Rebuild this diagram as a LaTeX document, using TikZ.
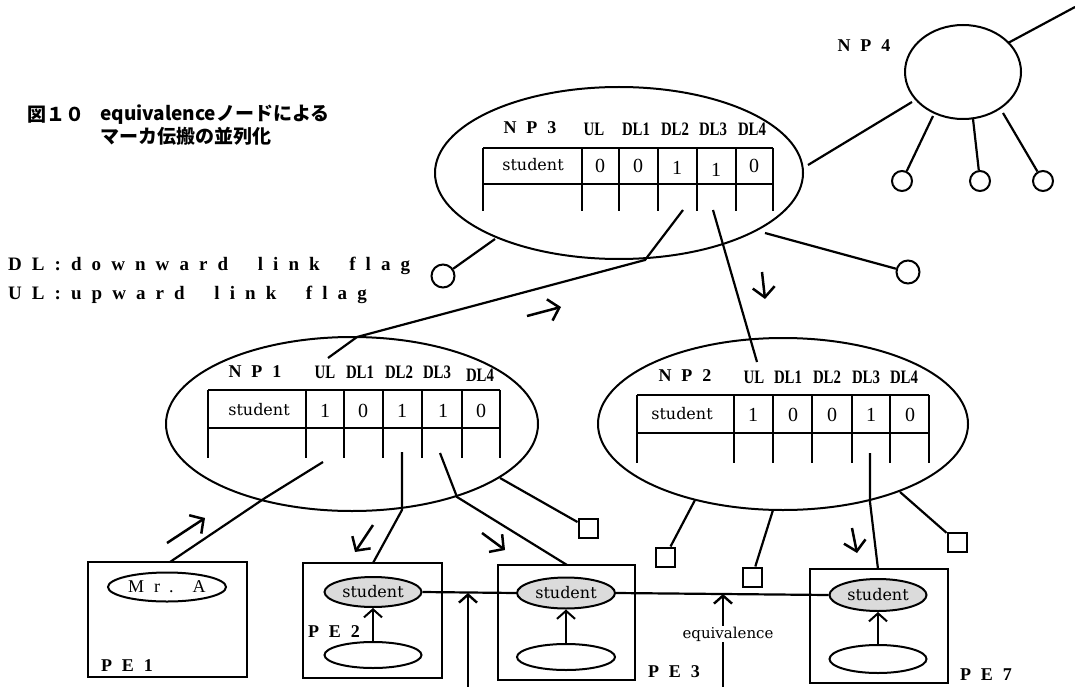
\documentclass[tikz,border=0pt]{standalone}
\usepackage{fontspec}
\setmainfont{Liberation Serif}
\newfontfamily\cjk{Noto Sans CJK JP}
\newfontfamily\spc[LetterSpace=55]{Liberation Serif}
\newfontfamily\lsp[LetterSpace=53]{Liberation Serif}
\newfontfamily\cond[FakeStretch=0.78]{Liberation Serif}
\newfontfamily\dvs{DejaVu Serif}
\usetikzlibrary{shapes.geometric,arrows.meta}
\begin{document}
\begin{tikzpicture}[x=1pt,y=-1pt,
  ln/.style={line width=2.2pt},
  tbl/.style={line width=2.3pt},
  el/.style={ellipse,draw,line width=2pt,inner sep=0pt},
  sel/.style={el,fill=gray!28,font=\dvs\fontsize{16pt}{18pt}\selectfont},
  sq/.style={rectangle,draw,line width=2pt,minimum size=19pt,inner sep=0pt},
  cir/.style={circle,draw,line width=2pt,inner sep=0pt},
  mk/.style={line width=2.5pt,-{Straight Barb[length=10pt,width=22pt]}},
  upa/.style={line width=2pt,-{Straight Barb[length=8pt,width=18pt]}},
  pebox/.style={rectangle,draw,line width=2pt,inner sep=0pt},
  npl/.style={inner sep=0pt,font=\spc\bfseries\fontsize{18pt}{20pt}\selectfont},
  hdr/.style={inner sep=0pt,font=\cond\bfseries\fontsize{19pt}{21pt}\selectfont},
  val/.style={inner sep=0pt,font=\fontsize{20pt}{22pt}\selectfont},
  stu/.style={inner sep=0pt,font=\dvs\fontsize{16pt}{18pt}\selectfont},
  lgd/.style={anchor=west,inner sep=0pt,font=\lsp\bfseries\fontsize{19pt}{21pt}\selectfont},
  ttl/.style={anchor=west,inner sep=0pt,font=\cjk\bfseries\fontsize{19pt}{21pt}\selectfont}]
\fill[white] (0,0) rectangle (1075,687);
\useasboundingbox (0,0) rectangle (1075,687);

% title and legend
\node[ttl] (t1) at (27,115) {図１０};
\node[ttl] (t2) at (100,115) {equivalenceノードによる};
\node[ttl] (t3) at (100,136) {マーカ伝搬の並列化};
\node[lgd] (lg1) at (8,266) {DL:downward \ link \ flag};
\node[lgd] (lg2) at (8,295) {UL:upward \ link \ flag};

% ellipses of NP nodes
\node[el,minimum width=368pt,minimum height=172pt] (np3) at (619,173) {};
\node[el,minimum width=372pt,minimum height=174pt] (np1) at (352,424) {};
\node[el,minimum width=370pt,minimum height=172pt] (np2) at (783,424) {};
\node[el,minimum width=116pt,minimum height=94pt] (np4) at (963,72) {};
\node[npl] (np4l) at (864,46) {NP4};

% NP3 table
\foreach \x in {483,582,619,658,697,736,773} \draw[tbl] (\x,148) -- (\x,211);
\draw[tbl] (483,148) -- (773,148) (483,184) -- (773,184);
\node[npl] (np3l) at (530,128) {NP3};
\foreach \x/\t/\n in {594/UL/a,636/DL1/b,675/DL2/c,713/DL3/d,752/DL4/e}
  \node[hdr] (np3h\n) at (\x,129) {\t};
\node[stu] (np3s) at (533,165) {student};
\foreach \x/\y/\t/\n in {600/166/0/a,638/166/0/b,677/168/1/c,716/170/1/d,754/166/0/e}
  \node[val] (np3v\n) at (\x,\y) {\t};

% NP1 table
\foreach \x in {208,306,344,383,422,462,500} \draw[tbl] (\x,390) -- (\x,458);
\draw[tbl] (208,390) -- (500,390) (208,428) -- (500,428);
\node[npl] (np1l) at (255,372) {NP1};
\foreach \x/\y/\t/\n in {325/372/UL/a,360/372/DL1/b,399/372/DL2/c,437/372/DL3/d,480/375/DL4/e}
  \node[hdr] (np1h\n) at (\x,\y) {\t};
\node[stu] (np1s) at (259,410) {student};
\foreach \x/\t/\n in {325/1/a,363/0/b,402/1/c,443/1/d,481/0/e}
  \node[val] (np1v\n) at (\x,411) {\t};

% NP2 table
\foreach \x in {637,734,773,812,852,890,929} \draw[tbl] (\x,395) -- (\x,463);
\draw[tbl] (637,395) -- (929,395) (637,433) -- (929,433);
\node[npl] (np2l) at (685,376) {NP2};
\foreach \x/\t/\n in {754/UL/a,788/DL1/b,827/DL2/c,866/DL3/d,904/DL4/e}
  \node[hdr] (np2h\n) at (\x,377) {\t};
\node[stu] (np2s) at (682,414) {student};
\foreach \x/\t/\n in {753/1/a,793/0/b,832/0/c,871/1/d,910/0/e}
  \node[val] (np2v\n) at (\x,415) {\t};

% small circles and squares
\node[cir,minimum size=23pt] (c1) at (443,276) {};
\node[cir,minimum size=23pt] (c2) at (908,272) {};
\node[cir,minimum size=20pt] (c3) at (902,181) {};
\node[cir,minimum size=20pt] (c4) at (980,181) {};
\node[cir,minimum size=20pt] (c5) at (1043,181) {};
\node[sq] (s1) at (588,528) {};
\node[sq] (s2) at (665,557) {};
\node[sq] (s3) at (752,577) {};
\node[sq] (s4) at (957,542) {};

% links of NP3 and NP4
\coordinate (p31) at (683,210); \coordinate (p32) at (645,260);
\coordinate (p33) at (357,337); \coordinate (p34) at (328,358);
\draw[ln] (p31) -- (p32) -- (p33) -- (p34);
\coordinate (q1) at (713,210); \coordinate (q2) at (757,362);
\draw[ln] (q1) -- (q2);
\coordinate (r1) at (495,239); \draw[ln] (r1) -- (c1);
\coordinate (r2) at (765,233); \draw[ln] (r2) -- (c2);
\coordinate (r3) at (808,165); \coordinate (r4) at (912,102); \draw[ln] (r3) -- (r4);
\coordinate (r5) at (1008,43); \coordinate (r6) at (1075,7); \draw[ln] (r5) -- (r6);
\coordinate (r7) at (933,116); \draw[ln] (r7) -- (c3);
\coordinate (r8) at (973,119); \draw[ln] (r8) -- (c4);
\coordinate (r9) at (1003,113); \draw[ln] (r9) -- (c5);

% PE boxes
\node[pebox,minimum width=159pt,minimum height=115pt] (pe1) at (167.5,619.5) {};
\node[pebox,minimum width=139pt,minimum height=115pt] (pe2) at (372.5,620.5) {};
\node[pebox,minimum width=137pt,minimum height=115pt] (pe3) at (566.5,622.5) {};
\node[pebox,minimum width=138pt,minimum height=114pt] (pe7) at (879,626) {};
\node[npl] (pe1l) at (127,666) {PE1};
\node[npl] (pe2l) at (334,632) {PE2};
\node[npl] (pe3l) at (674,672) {PE3};
\node[npl] (pe7l) at (986,675) {PE7};

% links of NP1
\coordinate (u1) at (323,462); \coordinate (u2) at (265,498); \coordinate (u3) at (170,562);
\draw[ln] (u1) -- (u2) -- (u3);
\coordinate (d21) at (402,452); \coordinate (d22) at (402,510); \coordinate (d23) at (373,563);
\draw[ln] (d21) -- (d22) -- (d23);
\coordinate (d31) at (440,453); \coordinate (d32) at (457,497); \coordinate (d33) at (567,565);
\draw[ln] (d31) -- (d32) -- (d33);
\coordinate (w1) at (500,478); \draw[ln] (w1) -- (s1);

% links of NP2
\coordinate (e1) at (870,453); \coordinate (e2) at (870,502); \coordinate (e3) at (878,569);
\draw[ln] (e1) -- (e2) -- (e3);
\coordinate (f1) at (695,500); \draw[ln] (f1) -- (s2);
\coordinate (f2) at (773,510); \draw[ln] (f2) -- (s3);
\coordinate (f3) at (900,492); \draw[ln] (f3) -- (s4);

% marker arrows
\coordinate (m1a) at (527,316); \coordinate (m1b) at (561,307); \draw[mk] (m1a) -- (m1b);
\coordinate (m2a) at (762,272); \coordinate (m2b) at (765,299); \draw[mk] (m2a) -- (m2b);
\coordinate (m3a) at (167,543); \coordinate (m3b) at (205,518); \draw[mk] (m3a) -- (m3b);
\coordinate (m4a) at (373,525); \coordinate (m4b) at (355,552); \draw[mk] (m4a) -- (m4b);
\coordinate (m5a) at (482,533); \coordinate (m5b) at (505,550); \draw[mk] (m5a) -- (m5b);
\coordinate (m6a) at (852,528); \coordinate (m6b) at (857,553); \draw[mk] (m6a) -- (m6b);

% contents of PE boxes
\node[el,minimum width=118pt,minimum height=29pt,font=\spc\fontsize{18pt}{20pt}\selectfont] (mra) at (167,587) {Mr. A};
\node[sel,minimum width=97pt,minimum height=30pt] (s2e) at (373,592) {student};
\node[el,minimum width=97pt,minimum height=26pt] (l2e) at (373,655) {};
\node[sel,minimum width=98pt,minimum height=31pt] (s3e) at (566,593) {student};
\node[el,minimum width=98pt,minimum height=26pt] (l3e) at (566,657) {};
\node[sel,minimum width=97pt,minimum height=32pt] (s7e) at (878,595) {student};
\node[el,minimum width=97pt,minimum height=28pt] (l7e) at (878,659) {};
\draw[upa] (l2e) -- (s2e);
\draw[upa] (l3e) -- (s3e);
\draw[upa] (l7e) -- (s7e);

% equivalence links
\draw[ln] (s2e.east) -- (s3e.west);
\draw[ln] (s3e.east) -- (s7e.west);
\coordinate (v1) at (468,687); \coordinate (v2) at (468,593); \draw[upa,line width=2.4pt] (v1) -- (v2);
\coordinate (v3) at (723,687); \coordinate (v4) at (723,594); \draw[upa,line width=2.4pt] (v3) -- (v4);
\node[fill=white,inner sep=1pt,font=\dvs\fontsize{15pt}{17pt}\selectfont] (eqv) at (728,634) {equivalence};
\end{tikzpicture}
\end{document}
